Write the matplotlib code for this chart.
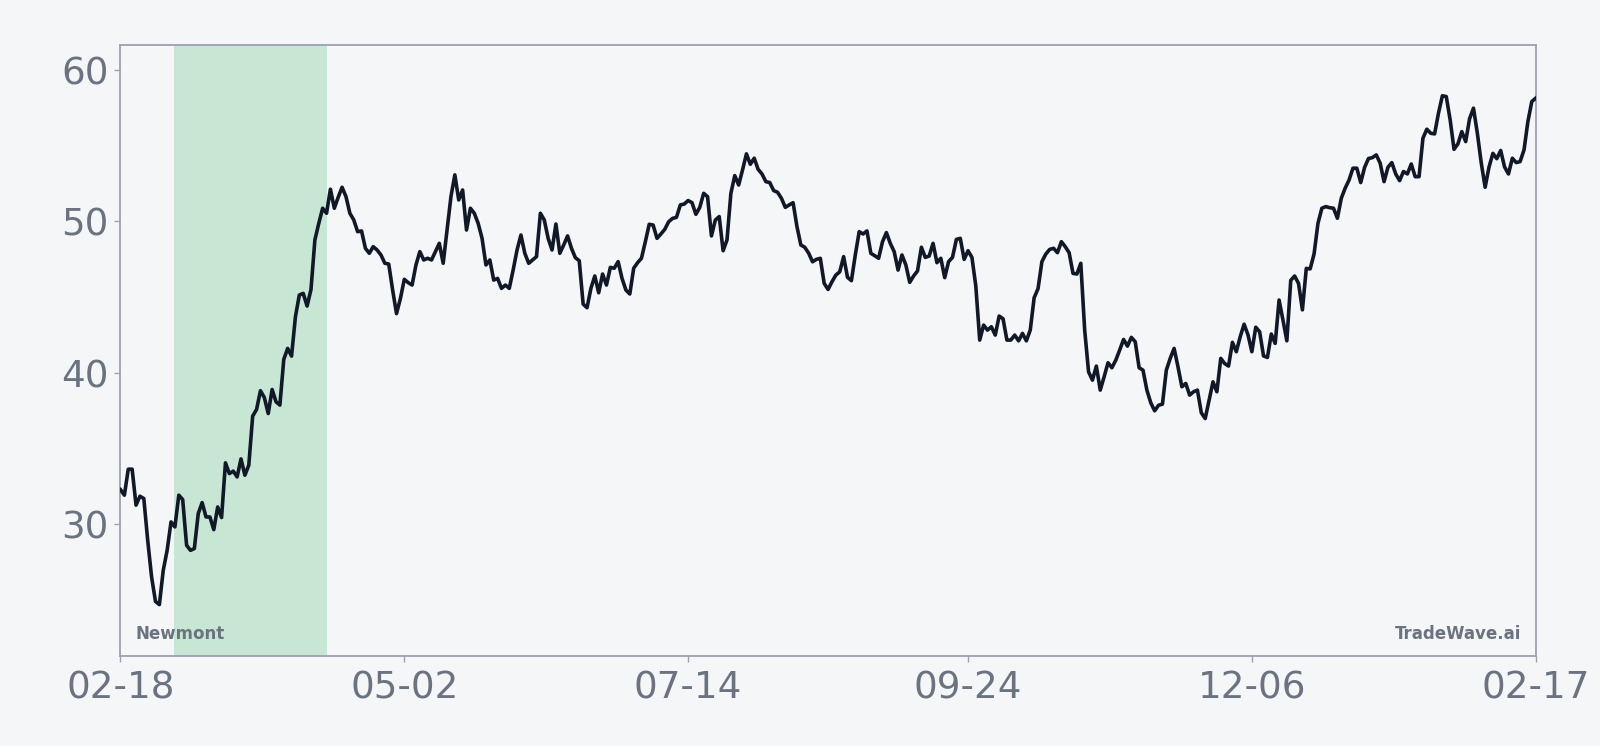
import matplotlib
matplotlib.use("Agg")
import matplotlib.pyplot as plt
import matplotlib.dates as mdates
import pandas as pd
import numpy as np

# ---- data ----
start_date = "2025-02-18"
end_date = "2026-02-17"
prices = [
    32.26, 31.89, 33.61, 33.61, 31.23, 31.82, 31.67, 28.91, 26.48, 24.86,
    24.65, 26.92, 28.24, 30.12, 29.79, 31.89, 31.60, 28.58, 28.24, 28.36,
    30.67, 31.40, 30.45, 30.45, 29.61, 31.11, 30.41, 34.03, 33.32, 33.48,
    33.10, 34.29, 33.21, 33.87, 37.12, 37.56, 38.80, 38.35, 37.29, 38.88,
    38.07, 37.85, 40.87, 41.60, 41.09, 43.70, 45.13, 45.24, 44.40, 45.50,
    48.77, 49.87, 50.87, 50.54, 52.13, 50.87, 51.60, 52.26, 51.64, 50.54,
    50.10, 49.32, 49.37, 48.22, 47.89, 48.33, 48.11, 47.78, 47.23, 47.18,
    45.46, 43.90, 44.90, 46.17, 45.95, 45.79, 47.12, 48.00, 47.45, 47.56,
    47.45, 48.00, 48.55, 47.23, 49.43, 51.64, 53.08, 51.42, 52.08, 49.43,
    50.87, 50.54, 49.87, 48.88, 47.12, 47.45, 46.12, 46.23, 45.57, 45.79,
    45.57, 46.79, 48.11, 49.10, 47.89, 47.23, 47.45, 47.67, 50.54, 50.10,
    48.88, 48.11, 49.83, 47.89, 48.44, 49.04, 48.22, 47.60, 47.40, 44.53,
    44.29, 45.57, 46.39, 45.28, 46.52, 45.79, 46.96, 46.90, 47.34, 46.23,
    45.46, 45.20, 46.90, 47.27, 47.56, 48.66, 49.81, 49.76, 48.88, 49.17,
    49.48, 49.98, 50.20, 50.27, 51.09, 51.15, 51.38, 51.24, 50.47, 50.93,
    51.86, 51.64, 49.04, 50.09, 50.32, 48.06, 48.77, 51.86, 53.03, 52.41,
    53.41, 54.47, 53.78, 54.18, 53.45, 53.14, 52.63, 52.57, 52.04, 51.93,
    51.53, 50.93, 51.09, 51.24, 49.65, 48.44, 48.29, 47.90, 47.33, 47.49,
    47.56, 45.90, 45.50, 46.01, 46.45, 46.67, 47.67, 46.30, 46.08, 47.78,
    49.32, 49.17, 49.37, 47.89, 47.73, 47.56, 48.66, 49.26, 48.55, 48.00,
    46.78, 47.78, 47.12, 45.97, 46.39, 46.72, 48.29, 47.62, 47.71, 48.55,
    47.27, 47.56, 46.28, 47.34, 47.62, 48.81, 48.88, 47.49, 48.06, 47.62,
    45.72, 42.15, 43.14, 42.81, 43.03, 42.48, 43.74, 43.56, 42.15, 42.15,
    42.48, 42.10, 42.59, 42.10, 42.81, 44.95, 45.55, 47.34, 47.84, 48.15,
    48.22, 47.93, 48.66, 48.33, 47.93, 46.56, 46.52, 47.23, 42.81, 40.05,
    39.50, 40.43, 38.84, 39.72, 40.65, 40.32, 40.82, 41.49, 42.19, 41.75,
    42.33, 42.04, 40.32, 40.16, 38.84, 38.00, 37.47, 37.84, 37.91, 40.16,
    40.94, 41.60, 40.38, 39.06, 39.28, 38.51, 38.73, 38.84, 37.34, 36.96,
    38.18, 39.39, 38.73, 40.94, 40.60, 40.43, 42.00, 41.38, 42.37, 43.20,
    42.50, 41.38, 43.00, 42.70, 41.10, 41.00, 42.55, 41.93, 44.80, 43.47,
    42.10, 46.10, 46.39, 45.90, 44.15, 46.89, 46.86, 47.85, 49.87, 50.87,
    50.98, 50.91, 50.87, 50.21, 51.53, 52.20, 52.74, 53.52, 53.52, 52.57,
    53.58, 54.16, 54.22, 54.40, 53.85, 52.63, 53.58, 53.89, 53.14, 52.70,
    53.30, 53.14, 53.80, 52.96, 52.96, 55.50, 56.10, 55.83, 55.79, 57.16,
    58.31, 58.26, 56.72, 54.77, 55.13, 55.94, 55.28, 56.80, 57.49, 55.83,
    53.87, 52.26, 53.60, 54.50, 54.15, 54.69, 53.60, 53.14, 54.18, 53.89,
    53.96, 54.73, 56.61, 57.93, 58.15,
]
band_start = "2025-03-03 18:00"
band_end = "2025-04-12 04:00"
tick_dates = ["2025-02-18", "2025-05-02", "2025-07-14", "2025-09-24", "2025-12-06", "2026-02-17"]
y_ticks = [30, 40, 50, 60]
ticker_label = "Newmont"
brand_label = "TradeWave.ai"

# ---- styling ----
BG = "#f4f6f8"
LINE = "#111827"
GRAY = "#6b7280"
SPINE = "#9ca0b0"
BAND = "#c8e6d4"

dates = pd.date_range(start_date, end_date, freq="D")
values = np.array(prices)

fig = plt.figure(figsize=(16, 7.46), dpi=100, facecolor=BG)
ax = fig.add_axes([0.0753, 0.1213, 0.9598 - 0.0753, 0.9398 - 0.1213])
ax.set_facecolor(BG)

ax.axvspan(pd.Timestamp(band_start), pd.Timestamp(band_end), color=BAND, lw=0, zorder=1)
ax.plot(dates, values, color=LINE, lw=2.6, solid_joinstyle="round", zorder=3)

ax.set_xlim(dates[0], dates[-1])
rng = values.max() - values.min()
ax.set_ylim(values.min() - 0.1 * rng, values.max() + 0.1 * rng)

ax.set_xticks([pd.Timestamp(d) for d in tick_dates])
ax.xaxis.set_major_formatter(mdates.DateFormatter("%m-%d"))
ax.set_yticks(y_ticks)

ax.tick_params(axis="both", colors=SPINE, labelcolor=GRAY, labelsize=26.8, length=4, width=1)
ax.tick_params(axis="x", pad=6)
ax.tick_params(axis="y", pad=4.5)

for s in ax.spines.values():
    s.set_color(SPINE)
    s.set_linewidth(1.3)

ax.text(0.0103, 0.036, ticker_label, transform=ax.transAxes, ha="left", va="center",
        fontsize=12, fontweight="bold", color=GRAY)
ax.text(0.9896, 0.036, brand_label, transform=ax.transAxes, ha="right", va="center",
        fontsize=12, fontweight="bold", color=GRAY)

fig.savefig("out.png", dpi=100, facecolor=BG)
